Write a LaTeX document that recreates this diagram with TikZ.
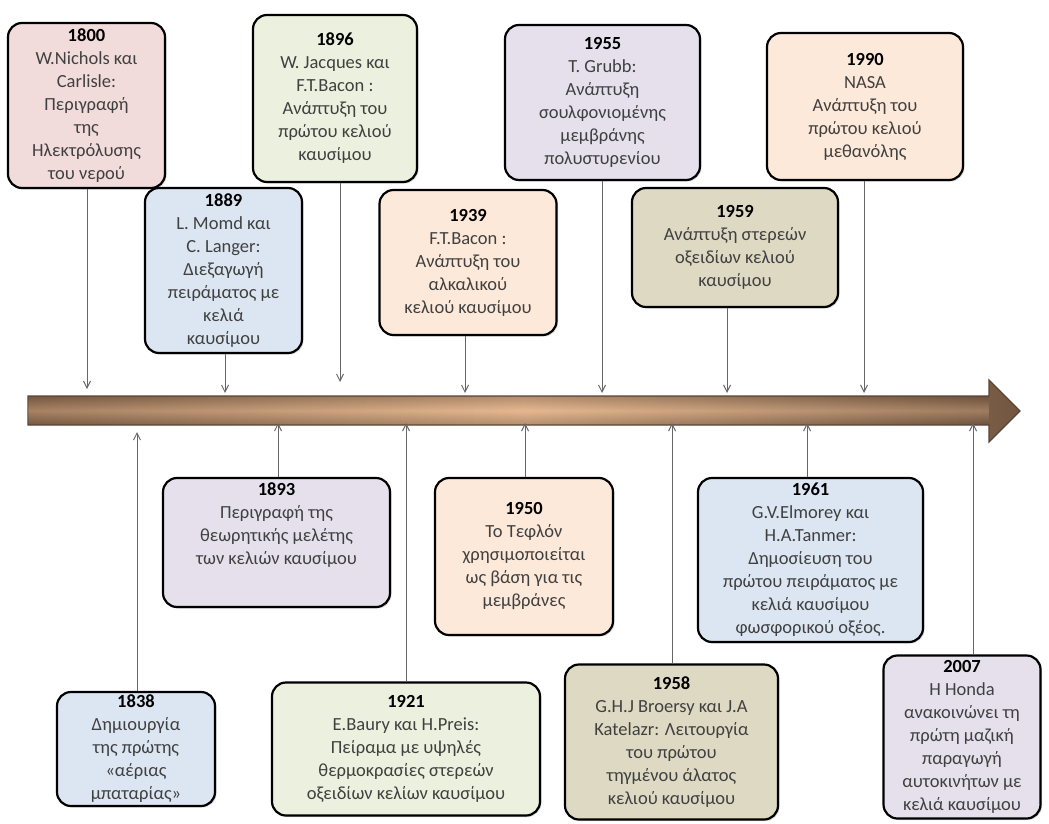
\documentclass[tikz,border=0pt]{standalone}
\usepackage{fontspec}
\setmainfont{Carlito}
\usetikzlibrary{arrows.meta,shadows}

\definecolor{pinkbox}{HTML}{F2DCDB}
\definecolor{bluebox}{HTML}{DCE6F2}
\definecolor{greenbox}{HTML}{EBF1DE}
\definecolor{peachbox}{HTML}{FDE9D9}
\definecolor{lilacbox}{HTML}{E5E0EC}
\definecolor{khakibox}{HTML}{DDD9C3}
\definecolor{txtgray}{HTML}{404040}
\definecolor{brdark}{HTML}{86654B}
\definecolor{brlight}{HTML}{E6B890}
\definecolor{bredge}{HTML}{5A4535}

\newcommand{\yr}[1]{{\bfseries\color{black}#1}\\}

\begin{document}
\begin{tikzpicture}
	 [x=1pt,y=-1pt,
	  box/.style={draw=black,line width=2.2pt,rounded corners=14pt,align=center,inner sep=0pt,
	    text=txtgray,font=\fontsize{18.5}{23}\selectfont,
	    drop shadow={shadow xshift=1.5pt,shadow yshift=-1.5pt,opacity=0.3}},
	  tick/.style={draw=black!60,line width=1pt,-{Straight Barb[length=7pt,width=7pt]}}]

	\useasboundingbox (0,0) rectangle (1049,824);

	% time axis
	\shade[left color=brdark,right color=brdark!85!black,middle color=brlight,draw=bredge,line width=1.2pt]
	  (28,396) -- (989,396) -- (989,380) -- (1020,411) -- (989,442) -- (989,425) -- (28,425) -- cycle;
	\shade[top color=bredge,bottom color=bredge,middle color=brlight,opacity=0.35]
	  (28.6,396.6) rectangle (988.4,424.4);

	% events above the axis
	  \node (b1800) [box,fill=pinkbox,minimum width=157,minimum height=165] at (86.5,105.5)
	    {\yr{1800}W.Nichols και\\Carlisle:\\Περιγραφή\\της\\Ηλεκτρόλυσης\\του νερού};
	  \node (b1896) [box,fill=greenbox,minimum width=164,minimum height=167] at (335,98.5)
	    {\yr{1896}W. Jacques και\\F.T.Bacon :\\Ανάπτυξη  του\\πρώτου κελιού\\καυσίμου};
	  \node (b1955) [box,fill=lilacbox,minimum width=195,minimum height=155] at (602.5,102.5)
	    {\yr{1955}T. Grubb:\\Ανάπτυξη\\σουλφονιομένης\\μεμβράνης\\πολυστυρενίου};
	  \node (b1990) [box,fill=peachbox,minimum width=196,minimum height=147] at (865,106.5)
	    {\yr{1990}NASA\\Ανάπτυξη του\\πρώτου κελιού\\μεθανόλης};
	  \node (b1889) [box,fill=bluebox,minimum width=157,minimum height=165] at (223.5,270.5)
	    {\yr{1889}L. Momd και\\C. Langer:\\Διεξαγωγή\\πειράματος με\\κελιά\\καυσίμου};
	  \node (b1939) [box,fill=peachbox,minimum width=177,minimum height=145] at (468,262.5)
	    {\yr{1939}F.T.Bacon :\\Ανάπτυξη του\\αλκαλικού\\κελιού καυσίμου};
	  \node (b1959) [box,fill=khakibox,minimum width=206,minimum height=119] at (735,247.5)
	    {\yr{1959}Ανάπτυξη στερεών\\οξειδίων κελιού\\καυσίμου};

	  \coordinate (p1800) at (87,389);
	  \coordinate (p1889) at (225,393);
	  \coordinate (p1896) at (340,382);
	  \coordinate (p1939) at (465,393);
	  \coordinate (p1955) at (602,393);
	  \coordinate (p1959) at (727,393);
	  \coordinate (p1990) at (864,393);
	\foreach \from/\to in {b1800/p1800,b1889/p1889,b1896/p1896,b1939/p1939,b1955/p1955,b1959/p1959,b1990/p1990}
    \draw[tick] (\from.south -| \to) -- (\to);

	% events below the axis
	  \node (b1893) [box,fill=lilacbox,minimum width=227,minimum height=129,text depth=38pt] at (276.5,542.5)
	    {\yr{1893}Περιγραφή της\\θεωρητικής μελέτης\\των κελιών  καυσίμου};
	  \node (b1950) [box,fill=peachbox,minimum width=178,minimum height=157] at (524,556.5)
	    {\yr{1950}Το Τεφλόν\\χρησιμοποιείται\\ως βάση για τις\\μεμβράνες};
	  \node (b1961) [box,fill=bluebox,minimum width=225,minimum height=164] at (810.5,560)
	    {\yr{1961}G.V.Elmorey  και\\H.A.Tanmer:\\Δημοσίευση του\\πρώτου πειράματος με\\κελιά καυσίμου\\φωσφορικού οξέος.};
	  \node (b1838) [box,fill=bluebox,minimum width=158,minimum height=114] at (136,749)
	    {\yr{1838}Δημιουργία\\της πρώτης\\«αέριας\\μπαταρίας»};
	  \node (b1921) [box,fill=greenbox,minimum width=268,minimum height=133] at (406,749)
	    {\yr{1921}E.Baury και H.Preis:\\Πείραμα με υψηλές\\θερμοκρασίες στερεών\\οξειδίων κελίων καυσίμου};
	  \node (b1958) [box,fill=khakibox,minimum width=213,minimum height=155] at (671.5,742)
	    {\yr{1958}G.H.J Broersy και J.A\\Katelazr:  Λειτουργία\\του πρώτου\\τηγμένου άλατος\\κελιού καυσίμου};
	  \node (b2007) [box,fill=lilacbox,minimum width=157,minimum height=163] at (962,737)
	    {\yr{2007}H Honda\\ανακοινώνει τη\\πρώτη μαζική\\παραγωγή\\αυτοκινήτων με\\κελιά καυσίμου};

	  \coordinate (q1838) at (137,432);
	  \coordinate (q1893) at (278,423);
	  \coordinate (q1921) at (406,423);
	  \coordinate (q1950) at (525,423);
	  \coordinate (q1958) at (672,423);
	  \coordinate (q1961) at (807,423);
	  \coordinate (q2007) at (973,423);
	\foreach \from/\to in {b1838/q1838,b1893/q1893,b1921/q1921,b1950/q1950,b1958/q1958,b1961/q1961,b2007/q2007}
    \draw[tick] (\from.north -| \to) -- (\to);

\end{tikzpicture}
\end{document}
